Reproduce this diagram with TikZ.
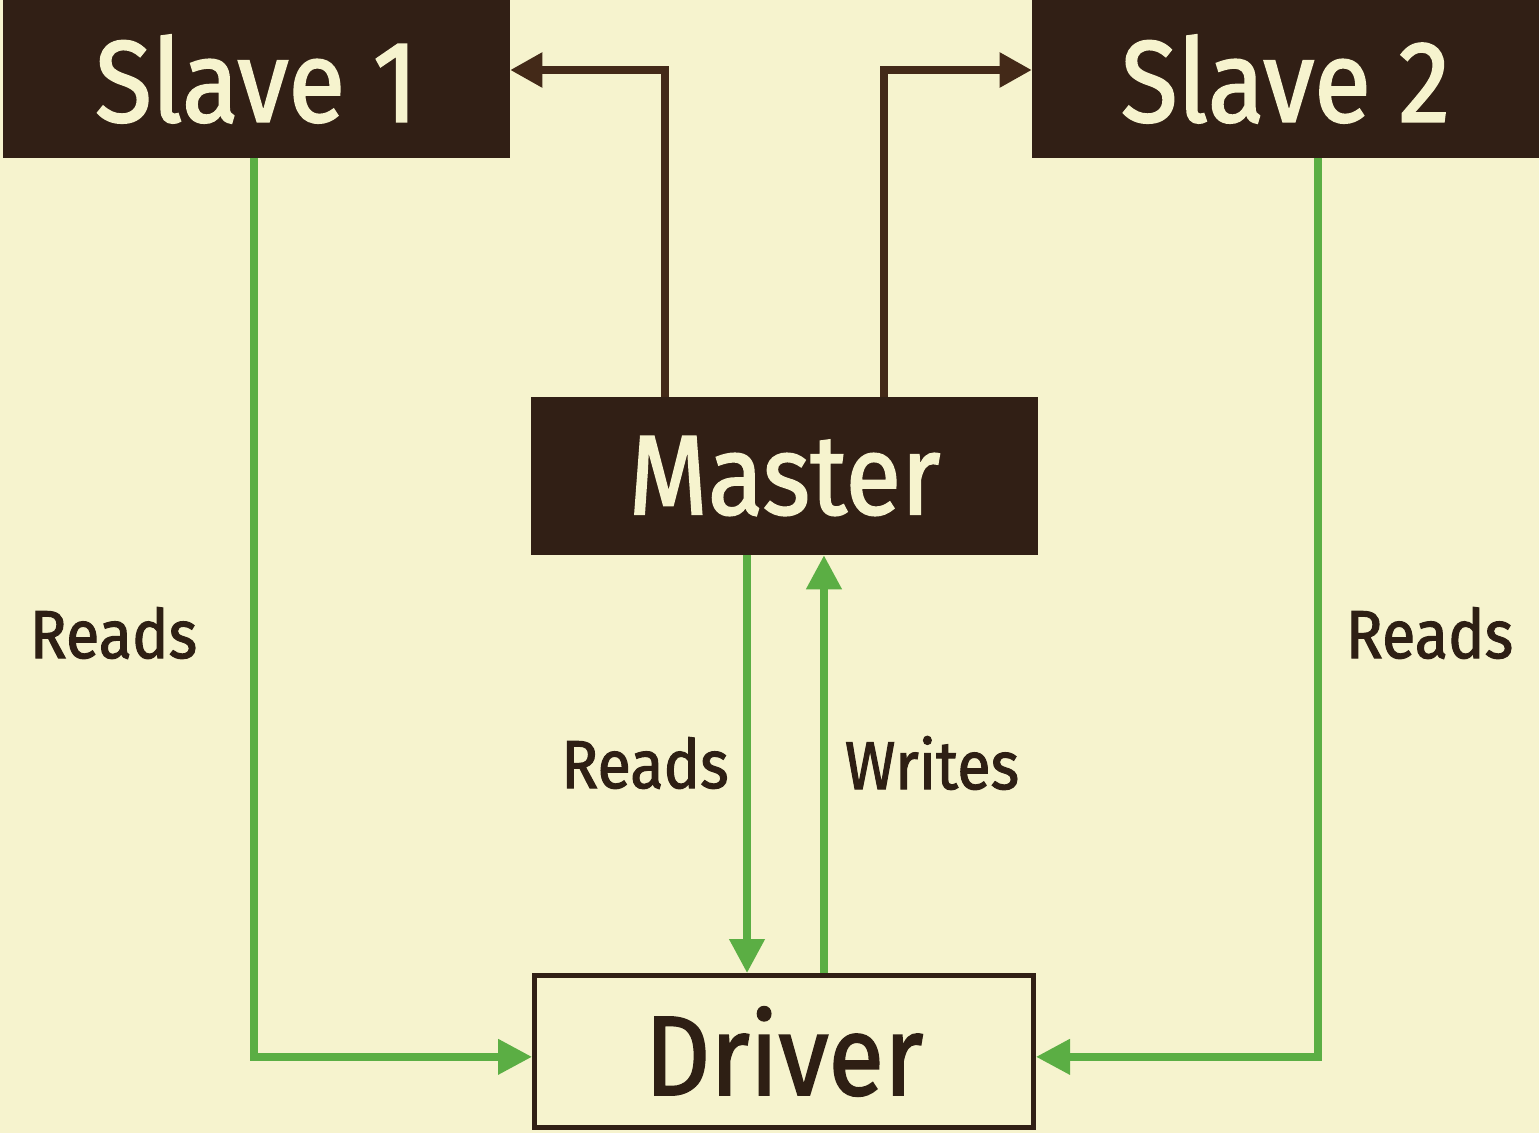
\documentclass[tikz,border=0pt]{standalone}
\usepackage{fontspec}
\setmainfont{Fira Sans}[FakeStretch=0.9, FakeBold=1.5]
\usetikzlibrary{arrows.meta,calc}
\definecolor{bg}{HTML}{F6F3CE}
\definecolor{boxdark}{HTML}{311F15}
\definecolor{arrbrown}{HTML}{432918}
\definecolor{arrgreen}{HTML}{5BAE44}
\definecolor{txtdark}{HTML}{2E1F14}
\tikzset{
  darkbox/.style={fill=boxdark, draw=none, text=bg, minimum width=380.25pt, minimum height=118.5pt, inner sep=0pt, font=\fontsize{87}{87}\selectfont},
  drvbox/.style={fill=bg, draw=boxdark, line width=3.75pt, text=txtdark, minimum width=374.25pt, minimum height=114pt, inner sep=0pt, font=\fontsize{85}{85}\selectfont},
  brownline/.style={draw=arrbrown, line width=5.5pt, -{Triangle[length=24pt,width=25pt]}},
  greenline/.style={draw=arrgreen, line width=5.5pt, -{Triangle[length=25.5pt,width=25.5pt]}},
  lbl/.style={text=txtdark, inner sep=0pt, font=\fontsize{51}{51}\selectfont}
}
\begin{document}
\begin{tikzpicture}[x=0.75pt,y=-0.75pt]
\useasboundingbox (0,0) rectangle (1539,1133);
\fill[bg] (0,0) rectangle (1539,1133);
\node[darkbox] (slave1) at (256.5,79) {Slave 1};
\node[darkbox] (slave2) at (1285.5,79) {Slave 2};
\node[darkbox, font=\fontsize{85}{85}\selectfont] (master) at (784.5,476) {Master};
\node[drvbox] (driver) at (784,1051.5) {Driver};
% master to slaves
\draw[brownline] ([xshift=-89.6pt]master.north) |- ([yshift=6.75pt]slave1.east);
\draw[brownline] ([xshift=74.6pt]master.north) |- ([yshift=6.75pt]slave2.west);
% master <-> driver
\draw[greenline] ([xshift=-28.1pt]master.south) -- ([xshift=-28.1pt]master.south |- driver.north);
\draw[greenline] ([xshift=29.6pt]master.south |- driver.north) -- ([xshift=29.6pt]master.south);
% slaves to driver
\draw[greenline] ([xshift=-1.9pt]slave1.south) |- ([yshift=-4pt]driver.west);
\draw[greenline] ([xshift=24.4pt]slave2.south) |- ([yshift=-4pt]driver.east);
% labels
\node[lbl] (l1) at (113.5,633) {Reads};
\node[lbl] (l2) at (645,763) {Reads};
\node[lbl] (l3) at (932,763) {Writes};
\node[lbl] (l4) at (1429.5,633) {Reads};
\end{tikzpicture}
\end{document}
